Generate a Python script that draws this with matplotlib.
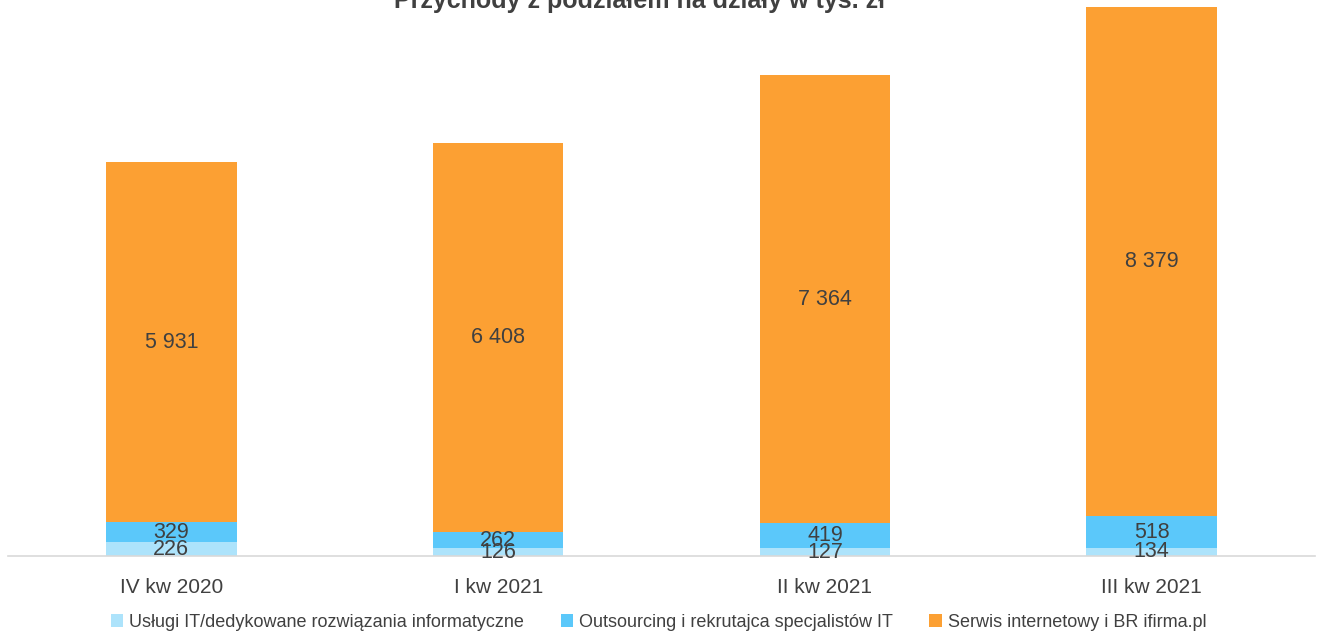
import matplotlib.pyplot as plt
import numpy as np

plt.rcParams['font.family'] = ['Liberation Sans', 'DejaVu Sans']

quarters = ['IV kw 2020', 'I kw 2021', 'II kw 2021', 'III kw 2021']
it_services = [226, 126, 127, 134]
outsourcing = [329, 262, 419, 518]
ifirma = [5931, 6408, 7364, 8379]

series_names = ['Usługi IT/dedykowane rozwiązania informatyczne',
                'Outsourcing i rekrutajca specjalistów IT',
                'Serwis internetowy i BR ifirma.pl']
colors = ['#ADE3FB', '#5BC8FA', '#FCA033']


def fmt(v):
    return f'{v:,}'.replace(',', ' ')


fig = plt.figure(figsize=(13.18, 6.31), dpi=100)
ax = fig.add_axes([8 / 1318, 1 - 556 / 631, 1307 / 1318, 556 / 631])

x = np.arange(len(quarters))
bottom = np.zeros(len(quarters))
for vals, name, col in zip([it_services, outsourcing, ifirma], series_names, colors):
    vals = np.array(vals)
    ax.bar(x, vals, width=0.4, bottom=bottom, color=col, label=name)
    for xi, b, v in zip(x, bottom, vals):
        ax.text(xi, b + v / 2, fmt(v), ha='center', va='center',
                fontsize=15.5, color='#404040')
    bottom += vals

ax.set_xlim(-0.5, 3.5)
ax.set_ylim(0, 9150)
ax.set_xticks(x)
ax.set_xticklabels(quarters, fontsize=15, color='#404040')
ax.tick_params(axis='x', length=0, pad=16)
ax.set_yticks([])
for s in ['left', 'right', 'top']:
    ax.spines[s].set_visible(False)
ax.spines['bottom'].set_color('#D9D9D9')
ax.spines['bottom'].set_linewidth(1.2)

fig.text(0.485, 0.998, 'Przychody z podziałem na działy w tys. zł', ha='center',
         va='center', fontsize=18, fontweight='bold', color='#404040')

handles, labels = ax.get_legend_handles_labels()
leg = fig.legend(handles, labels, loc='center', bbox_to_anchor=(0.4995, 0.014),
                 ncol=3, frameon=False, fontsize=13, handlelength=0.7,
                 handleheight=0.7, handletextpad=0.3, columnspacing=2.05,
                 labelcolor='#404040')

fig.savefig('out.png', dpi=100)
